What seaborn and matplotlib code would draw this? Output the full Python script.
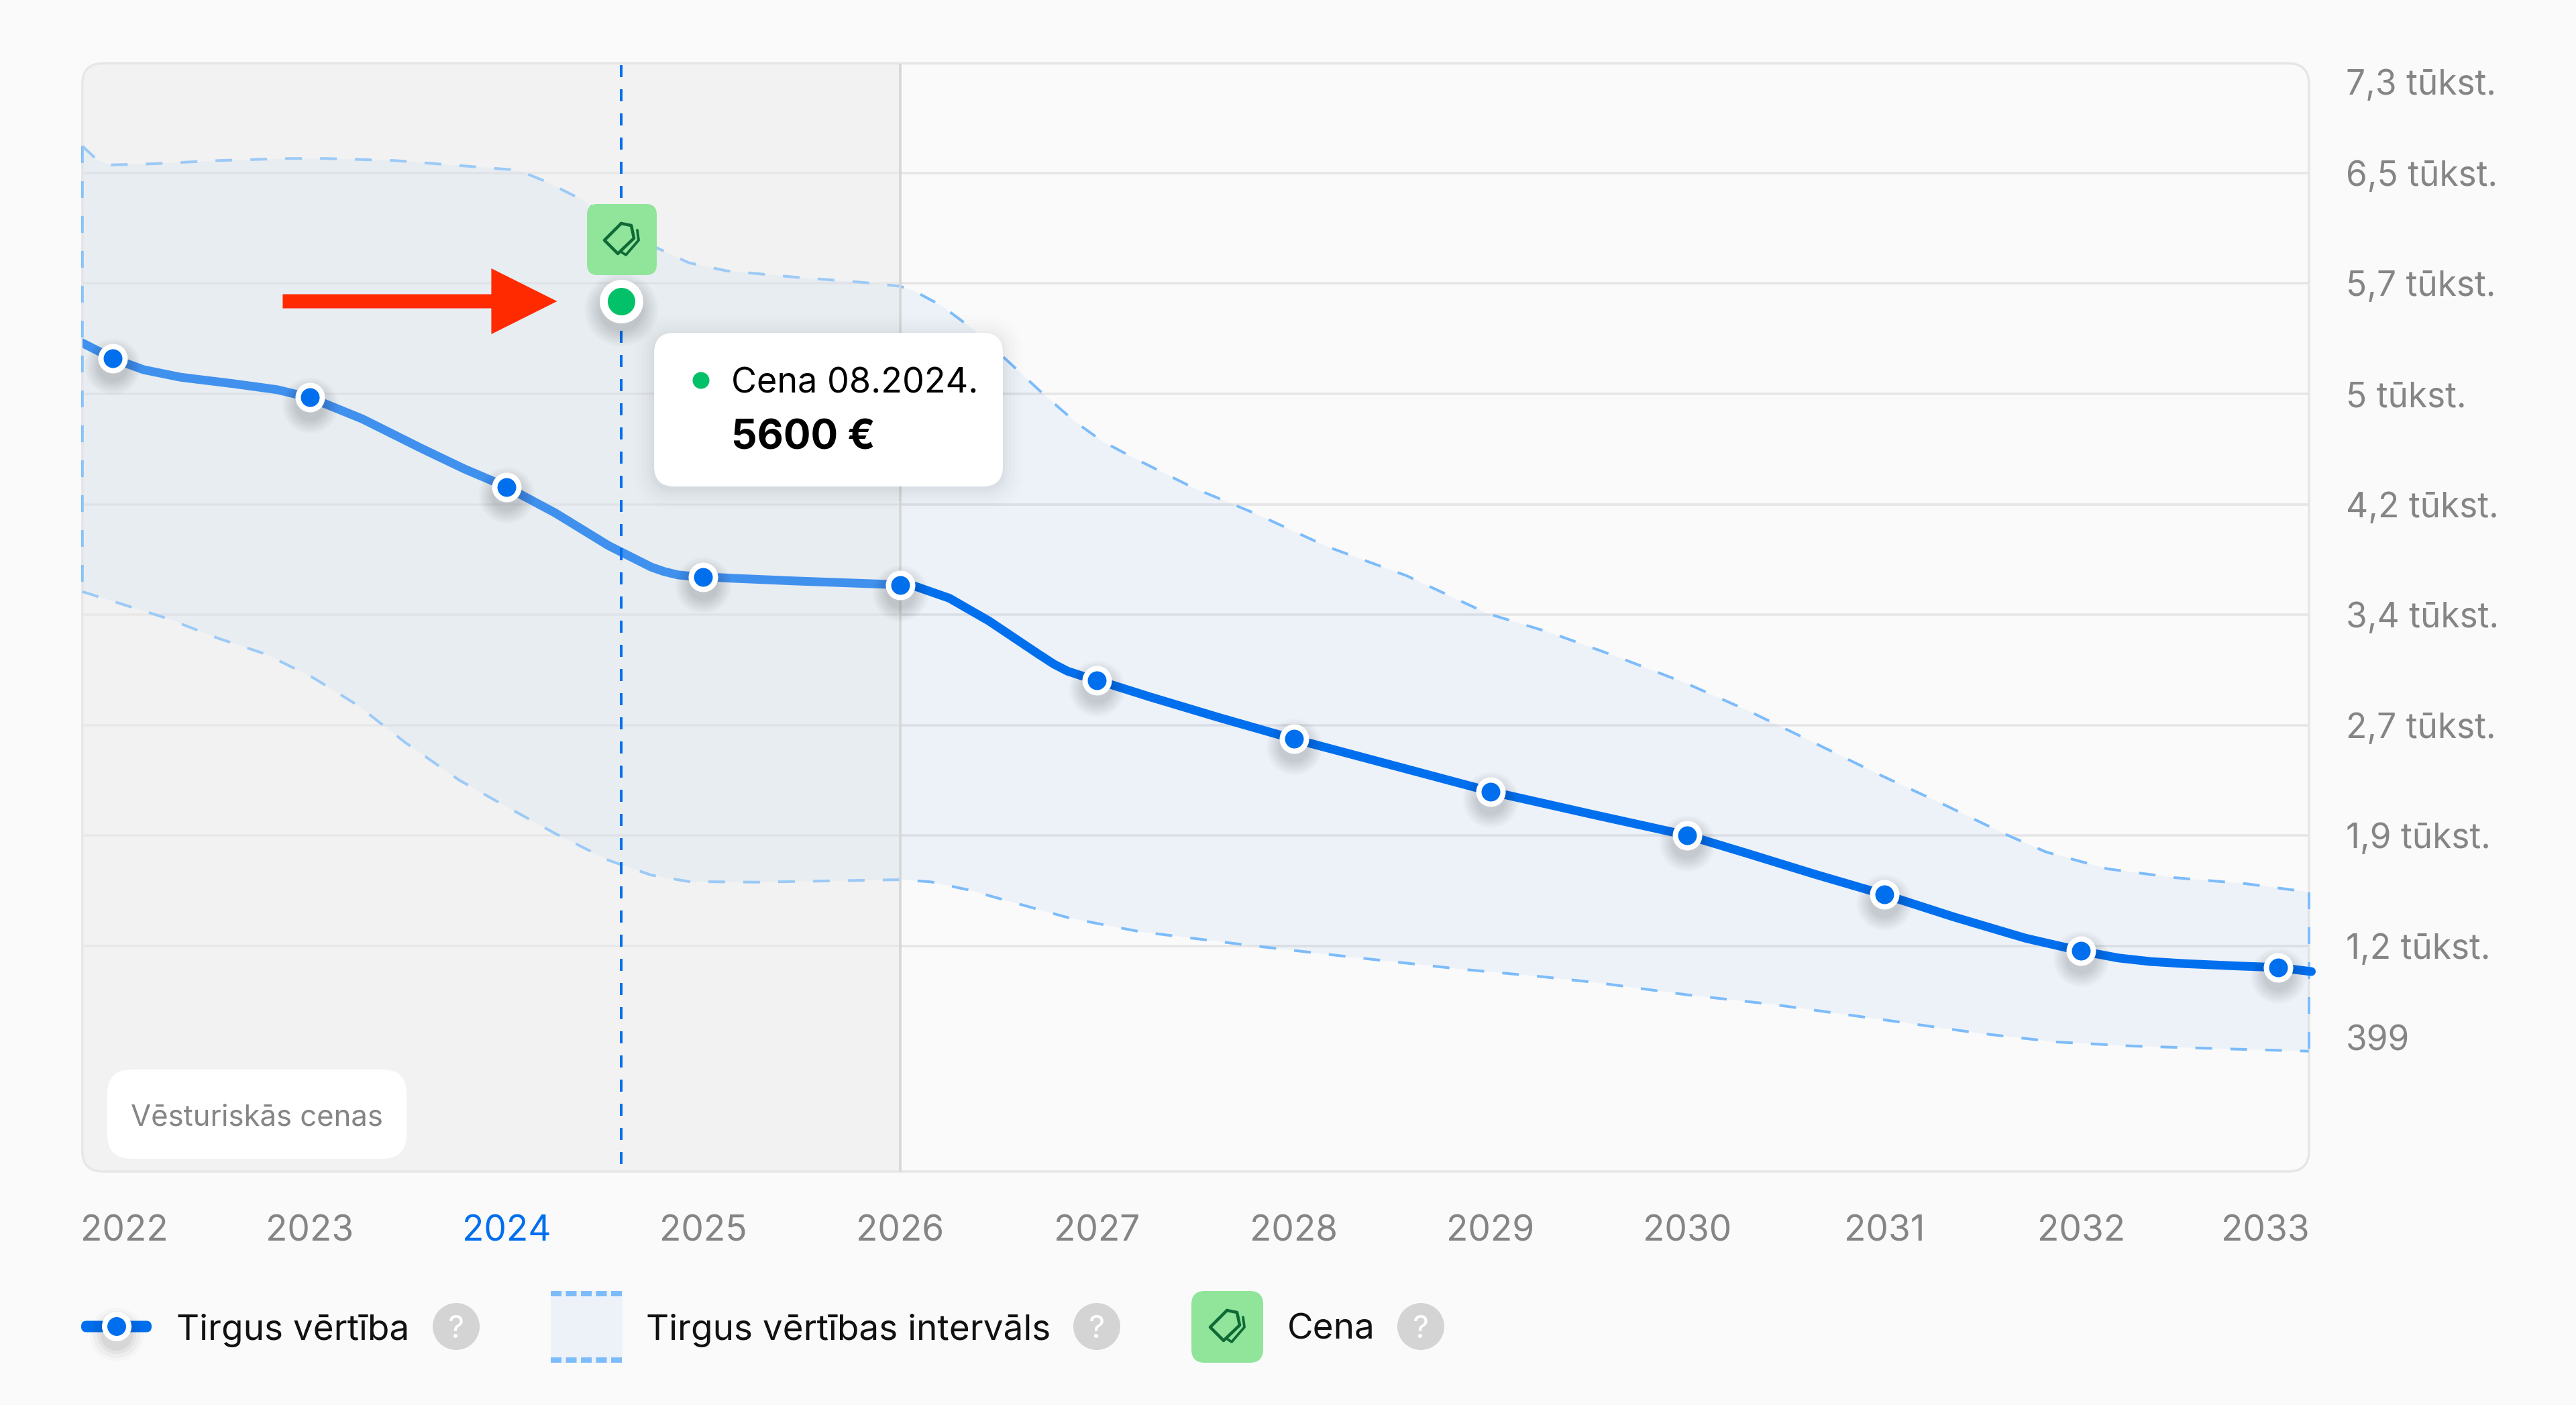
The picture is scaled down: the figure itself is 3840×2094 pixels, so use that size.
import numpy as np
import pandas as pd
import matplotlib
matplotlib.use("Agg")
import matplotlib.pyplot as plt
from matplotlib.patches import FancyBboxPatch, Circle, Rectangle, PathPatch
from matplotlib.path import Path
from matplotlib.transforms import Affine2D, ScaledTranslation
import seaborn as sns

# ---------- data ----------
years = [2022, 2023, 2024, 2025, 2026, 2027, 2028, 2029, 2030, 2031, 2032, 2033]
market_at_year = [5229, 4961, 4348, 3732, 3677, 3023, 2620, 2260, 1959, 1553, 1166, 1053]

market_x = [2021.845, 2022.0, 2022.155, 2022.345, 2022.617, 2022.834, 2023.0, 2023.268, 2023.568,
            2023.785, 2024.0, 2024.247, 2024.519, 2024.736, 2024.8, 2024.87, 2024.93, 2025.0, 2025.143,
            2025.47, 2026.0, 2026.08, 2026.25, 2026.45, 2026.564, 2026.7, 2026.781, 2026.85, 2026.92,
            2027.0, 2027.27, 2027.624, 2028.0, 2028.439,
            2029.0, 2029.526, 2030.0, 2030.309, 2030.648, 2031.0, 2031.352, 2031.717, 2032.0,
            2032.19, 2032.35, 2032.53, 2032.8, 2033.0, 2033.17]
market_y = [5335, 5229, 5152, 5100, 5055, 5015, 4961, 4814, 4612,
            4472, 4348, 4170, 3945, 3798, 3768, 3745, 3737, 3732, 3722,
            3703, 3677, 3665, 3585, 3430, 3327, 3204, 3133, 3085, 3054,
            3023, 2908, 2765, 2620, 2462,
            2260, 2100, 1959, 1833, 1692, 1553, 1400, 1254, 1166,
            1118, 1094, 1079, 1063, 1053, 1025]

upper_x = [2021.845, 2021.924, 2021.992, 2022.209, 2022.535, 2022.888, 2023.079, 2023.432, 2023.785,
           2024.057, 2024.193, 2024.383, 2024.519, 2024.763, 2024.926, 2025.116, 2025.47, 2025.823,
           2026.0, 2026.075, 2026.211, 2026.374, 2026.537, 2026.727, 2026.89, 2027.026, 2027.189,
           2027.488, 2027.814, 2028.167, 2028.575, 2028.982, 2029.305, 2029.644, 2029.996, 2030.309,
           2030.648, 2030.961, 2031.3, 2031.613, 2031.822, 2032.135, 2032.474, 2032.839, 2033.157]
upper_y = [6685, 6586, 6556, 6564, 6586, 6600, 6600, 6586, 6549,
           6520, 6446, 6318, 6190, 5988, 5885, 5830, 5786, 5749,
           5724, 5689, 5590, 5425, 5223, 4985, 4794, 4662, 4545,
           4343, 4160, 3940, 3738, 3481, 3348, 3183, 3000, 2813,
           2591, 2384, 2172, 1968, 1845, 1729, 1669, 1627, 1570]

lower_x = [2021.845, 2022.019, 2022.277, 2022.535, 2022.78, 2023.024, 2023.242, 2023.486, 2023.758,
           2023.975, 2024.247, 2024.519, 2024.736, 2024.926, 2025.279, 2025.741, 2026.0, 2026.156,
           2026.347, 2026.591, 2026.863, 2027.216, 2027.76, 2028.303, 2028.846, 2029.266, 2029.553,
           2029.996, 2030.439, 2030.961, 2031.483, 2031.874, 2032.265, 2032.787, 2033.157]
lower_y = [3630, 3556, 3446, 3310, 3200, 3035, 2852, 2595, 2339,
           2174, 1972, 1788, 1686, 1642, 1638, 1649, 1655, 1640,
           1585, 1493, 1391, 1299, 1207, 1123, 1042, 989, 947,
           866, 799, 701, 602, 542, 514, 493, 479]

grid_values = [6500, 5743, 4986, 4229, 3471, 2714, 1957, 1200]
ytick_values = [7126, 6500, 5743, 4986, 4229, 3471, 2714, 1957, 1200, 570]
ytick_labels = ["7,3 tūkst.", "6,5 tūkst.", "5,7 tūkst.", "5 tūkst.", "4,2 tūkst.",
                "3,4 tūkst.", "2,7 tūkst.", "1,9 tūkst.", "1,2 tūkst.", "399"]
xtick_labels = [str(y) for y in years]
history_end = 2026
price_date = 2024.584
price_level = 5621
price_text = "5600 €"
price_caption = "Cena 08.2024."
history_caption = "Vēsturiskās cenas"
legend_labels = ["Tirgus vērtība", "Tirgus vērtības intervāls", "Cena"]

# ---------- style ----------
BG = "#fafafa"
BLUE = "#006fee"
DASH = "#7dbcfa"
GREEN = "#03c168"
TAG = "#90e59a"
TAG_DK = "#0f6a36"
GRID = "#e6e6e6"
GRAY = "#858585"
INK = "#111111"
W, H = 3840, 2094
PT = 0.72  # points per pixel at dpi=100

sns.set_theme(style="white")
plt.rcParams["font.family"] = ["Inter", "DejaVu Sans"]
plt.rcParams["lines.scale_dashes"] = False

fig = plt.figure(figsize=(W / 100, H / 100), dpi=100, facecolor=BG)
px = Affine2D().scale(1 / W, -1 / H).translate(0, 1) + fig.transFigure
L, T, R, B = 122.8, 94.5, 3442, 1746
ax = fig.add_axes([L / W, 1 - B / H, (R - L) / W, (B - T) / H])
ax.set_facecolor("none")
ax.set_xlim(2021.845, 2033.158)
ax.set_ylim(-346, 7252)
for s in ax.spines.values():
    s.set_visible(False)


def box(x0, y0, x1, y1, r, fc, ec="none", lw=0, z=10, alpha=None):
    p = FancyBboxPatch((x0, y0), x1 - x0, y1 - y0, boxstyle=f"round,pad=0,rounding_size={r}",
                       transform=px, fc=fc, ec=ec, lw=lw * PT, zorder=z, alpha=alpha, clip_on=False)
    (ax if z < 20 else fig).add_artist(p)
    return p


def ftext(x, y, s, size, color=INK, weight="normal", ha="left", z=30):
    return fig.text(x / W, 1 - y / H, s, fontsize=size, color=color, fontweight=weight,
                    ha=ha, va="center_baseline", zorder=z)


# frame used as clip for the panel contents
frame = box(L, T, R, B, 31, "none", GRID, 3.5, z=1.8)

hist = ax.axvspan(ax.get_xlim()[0], history_end, color="#f3f3f3", lw=0, zorder=1)
hist.set_clip_path(frame)
ax.hlines(grid_values, *ax.get_xlim(), color=GRID, lw=3.6 * PT, zorder=1.5)

# band
ax.fill(np.r_[upper_x, lower_x[::-1]], np.r_[upper_y, lower_y[::-1]],
        color=BLUE, alpha=0.052, lw=0, zorder=2)
dash_style = (0, (25 * PT, 27 * PT))
for xs, ys in ((upper_x, upper_y), (lower_x, lower_y),
               ([upper_x[0], lower_x[0]], [upper_y[0], lower_y[0]]),
               ([upper_x[-1], lower_x[-1]], [upper_y[-1], lower_y[-1]])):
    sns.lineplot(x=xs, y=ys, ax=ax, color=DASH, lw=4 * PT, linestyle=dash_style, sort=False,
                 estimator=None, errorbar=None, zorder=2.2, legend=False)
for ln in ax.lines[:4]:
    ln.set_clip_on(False)

# main line
n_before = len(ax.lines)
sns.lineplot(x=market_x, y=market_y, ax=ax, color=BLUE, lw=13 * PT, sort=False, estimator=None,
             errorbar=None, zorder=3, legend=False, solid_capstyle="round")
ax.lines[n_before].set_clip_path(Rectangle((L, 0), R + 30 - L, H, transform=px))

# veil over the history part
veil = ax.axvspan(ax.get_xlim()[0], history_end, color="#f0f0f0", alpha=0.27, lw=0, zorder=4)
veil.set_clip_path(frame)
ax.axvline(history_end, color="#d6d6d6", lw=3.6 * PT, zorder=4.2)

# price guide line
ax.vlines(price_date, 1200 - (1735 - 1410) * 4.6007, ax.get_ylim()[1], color=BLUE, lw=4 * PT,
          linestyle=(0, (18 * PT, 18 * PT)), zorder=4.4)

# soft shadows + nodes
nodes = pd.DataFrame({"year": years, "value": market_at_year})
shadow_tf = ax.transData + ScaledTranslation(0, -12 / 100, fig.dpi_scale_trans)


def shadow(xv, yv, dmax, dmin, z):
    for d in np.linspace(dmax, dmin, 10):
        ax.scatter(xv, yv, s=(d * PT) ** 2, color="black", alpha=0.014, linewidths=0,
                   transform=shadow_tf, zorder=z, clip_on=False)


shadow(nodes["year"], nodes["value"], 84, 44, 4.6)
sns.scatterplot(data=nodes, x="year", y="value", ax=ax, s=(36 * PT) ** 2, color=BLUE,
                edgecolor="white", linewidth=8 * PT, zorder=5, legend=False, clip_on=False)

shadow([price_date], [price_level], 110, 64, 4.7)
sns.scatterplot(x=[price_date], y=[price_level], ax=ax, s=(53 * PT) ** 2, color=GREEN,
                edgecolor="white", linewidth=12 * PT, zorder=5.2, legend=False)

# red arrow pointing at the price marker
ax.annotate("", xy=(price_date, price_level), xytext=(-505, 0), textcoords="offset pixels",
            arrowprops=dict(arrowstyle=f"simple,head_length={98 * PT},head_width={98 * PT},tail_width={21 * PT}",
                            fc="#ff2a00", ec="none", lw=0, shrinkA=0, shrinkB=96 * PT, mutation_scale=1),
            zorder=5.5)


def tag_icon(cx, cy, host, z):
    outer = [(-1, -24), (14, -21), (18, -2), (-6, 21), (-26, 1), (-1, -24)]
    inner = [(23, -14), (25, 1), (6, 23), (0, 19)]
    for pts, lw in ((outer, 4.6), (inner, 3.8)):
        p = PathPatch(Path([(cx + a, cy + b) for a, b in pts]), transform=px, fc="none", ec=TAG_DK,
                      lw=lw * PT, joinstyle="round", capstyle="round", zorder=z, clip_on=False)
        host.add_artist(p)


# price tag above marker
box(875, 304, 979, 410, 16, TAG, z=7)
tag_icon(927, 357, ax, 7.1)

# tooltip
for g, a in ((30, .008), (24, .008), (18, .010), (12, .012), (7, .014), (3, .016)):
    box(975 - g, 496 - g + 4, 1495 + g, 725 + g + 4, 30 + g, "black", z=7.5, alpha=a)
box(975, 496, 1495, 725, 30, "white", z=8)
ax.add_artist(Circle((1045, 567), 12.5, transform=px, fc=GREEN, ec="none", zorder=9, clip_on=False))
ftext(1090, 567, price_caption, 37.5, "black")
ftext(1090, 647, price_text, 43.5, "black", weight="bold")

# history caption
box(160, 1594, 606, 1727, 36, "white", z=8)
ftext(383, 1661, history_caption, 31.4, GRAY, ha="center")

# ticks
xtick_pos = np.array(years, dtype=float)
xtick_pos[0] += 17 / 293.4
xtick_pos[-1] -= 19 / 293.4
ax.set_xticks(xtick_pos, xtick_labels)
ax.yaxis.tick_right()
ax.set_yticks(ytick_values, ytick_labels)
ax.tick_params(axis="x", length=0, pad=64 * PT, labelsize=38.3, labelcolor=GRAY)
ax.tick_params(axis="y", length=0, pad=55 * PT, labelsize=37, labelcolor=GRAY)
ax.get_xticklabels()[2].set_color(BLUE)
ax.set_xlabel("")
ax.set_ylabel("")
ax.grid(False)

# legend row
LY = 1977
box(121, LY - 8.5, 226, LY + 8.5, 8, BLUE, z=21)
for d, a in ((80, .02), (70, .03), (58, .04), (48, .05)):
    fig.add_artist(Circle((174, LY + 12), d / 2, transform=px, fc="black", ec="none", alpha=a, zorder=22))
fig.add_artist(Circle((174, LY), 18, transform=px, fc=BLUE, ec="white", lw=8 * PT, zorder=23))
ftext(263, LY, legend_labels[0], 38.2)


def help_icon(cx):
    fig.add_artist(Circle((cx, LY), 35, transform=px, fc="#d4d4d4", ec="none", zorder=22))
    ftext(cx, LY, "?", 34, "white", ha="center")


help_icon(680)
fig.add_artist(Rectangle((821, 1924), 107, 107, transform=px, fc="#edf2f9", ec="none", zorder=21))
for yy in (1928, 2027):
    fig.add_artist(plt.Line2D([821, 928], [yy, yy], transform=px, color=DASH, lw=8 * PT,
                              linestyle=(0, (16 * PT, 6.5 * PT)), zorder=22, dash_capstyle="butt"))
ftext(963, LY, legend_labels[1], 38.2)
help_icon(1635)
box(1776, 1924, 1883, 2031, 20, TAG, z=21)
tag_icon(1830, 1977, fig, 22)
ftext(1919, LY, legend_labels[2], 38.2)
help_icon(2118)

fig.savefig("out.png", dpi=100, facecolor=BG)
